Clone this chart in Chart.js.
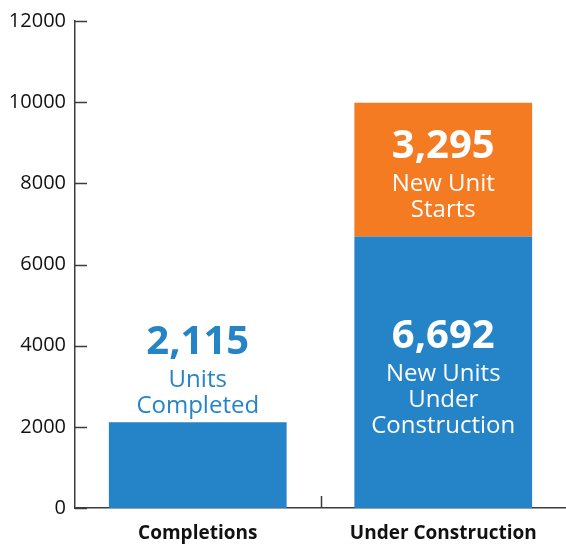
<!DOCTYPE html>
<html>
<head>
<meta charset="utf-8">
<script src="https://cdn.jsdelivr.net/npm/chart.js@4/dist/chart.umd.min.js"></script>
<style>
    html, body { margin: 0; padding: 0; background: #fff; }
    #wrap { width: 566px; height: 546px; }
</style>
</head>
<body>
<div id="wrap"><canvas id="housingChart"></canvas></div>
<script>
// Dados do gráfico
const categories = ['Completions', 'Under Construction'];
const blueValues = [2115, 6692];
const orangeValues = [null, 3295];
const blueNotes = [['Units', 'Completed'], ['New Units', 'Under', 'Construction']];
const orangeNotes = [null, ['New Unit', 'Starts']];
const yTicks = [0, 2000, 4000, 6000, 8000, 10000, 12000];

const BLUE = '#2584c7';
const ORANGE = '#f47b22';
const AXIS = '#3c3c3c';
const FONT = "'Open Sans', sans-serif";

// Escreve número + notas em cada barra
const barLabels = {
    id: 'barLabels',
    afterDatasetsDraw(chart) {
        const ctx = chart.ctx;
        ctx.save();
        ctx.textAlign = 'center';
        ctx.textBaseline = 'middle';
        chart.data.datasets.forEach((ds, di) => {
            const meta = chart.getDatasetMeta(di);
            meta.data.forEach((bar, i) => {
                const notes = ds.notes[i];
                if (!notes || ds.data[i] == null) return;
                const num = ds.data[i].toLocaleString('en-US');
                const span = 38 + 26 * (notes.length - 1);
                let y0, color;
                if (ds.outside[i]) {
                    color = BLUE;
                    y0 = bar.y - 16 - span;
                } else {
                    color = '#ffffff';
                    y0 = (bar.y + bar.base) / 2 - span / 2 + 9;
                }
                ctx.fillStyle = color;
                ctx.font = 'bold 40px ' + FONT;
                ctx.fillText(num, bar.x, y0);
                ctx.font = '24px ' + FONT;
                notes.forEach((t, k) => {
                    ctx.fillText(t, bar.x, y0 + 38 + 26 * k);
                });
            });
        });
        ctx.restore();
    }
};

// Marcas dos eixos para dentro
const innerTicks = {
    id: 'innerTicks',
    afterDraw(chart) {
        const ctx = chart.ctx;
        const x = chart.scales.x, y = chart.scales.y;
        const area = chart.chartArea;
        ctx.save();
        ctx.strokeStyle = AXIS;
        ctx.lineWidth = 1.5;
        ctx.beginPath();
        yTicks.forEach(v => {
            const py = Math.round(y.getPixelForValue(v)) + 0.5;
            ctx.moveTo(area.left, py);
            ctx.lineTo(area.left + 12, py);
        });
        for (let i = 1; i < categories.length; i++) {
            const px = Math.round((x.getPixelForValue(i - 1) + x.getPixelForValue(i)) / 2) + 0.5;
            ctx.moveTo(px, area.bottom);
            ctx.lineTo(px, area.bottom - 12);
        }
        ctx.stroke();
        ctx.restore();
    }
};

new Chart(document.getElementById('housingChart'), {
    type: 'bar',
    data: {
        labels: categories,
        datasets: [
            {
                data: blueValues,
                backgroundColor: BLUE,
                notes: blueNotes,
                outside: [true, false]
            },
            {
                data: orangeValues,
                backgroundColor: ORANGE,
                notes: orangeNotes,
                outside: [false, false]
            }
        ]
    },
    options: {
        responsive: true,
        maintainAspectRatio: false,
        animation: false,
        barPercentage: 0.724,
        categoryPercentage: 1,
        layout: { padding: { top: 16, right: 0, left: 0, bottom: 0 } },
        plugins: {
            legend: { display: false },
            tooltip: { enabled: false }
        },
        scales: {
            x: {
                stacked: true,
                grid: { display: false, drawTicks: false },
                border: { color: AXIS, width: 1.5 },
                ticks: {
                    color: '#111',
                    padding: 14,
                    font: { family: FONT, size: 19, weight: 'bold' }
                },
                afterFit(scale) { scale.height = 38; }
            },
            y: {
                stacked: true,
                min: 0,
                max: 12000,
                afterBuildTicks(scale) {
                    scale.ticks = yTicks.map(v => ({ value: v }));
                },
                grid: { display: false, drawTicks: false },
                border: { color: AXIS, width: 1.5 },
                ticks: {
                    color: '#111',
                    padding: 9,
                    font: { family: FONT, size: 20 },
                    callback: function (value) {
                        return String(value);
                    }
                },
                afterFit(scale) { scale.width = 75; }
            }
        }
    },
    plugins: [barLabels, innerTicks]
});
</script>
</body>
</html>
